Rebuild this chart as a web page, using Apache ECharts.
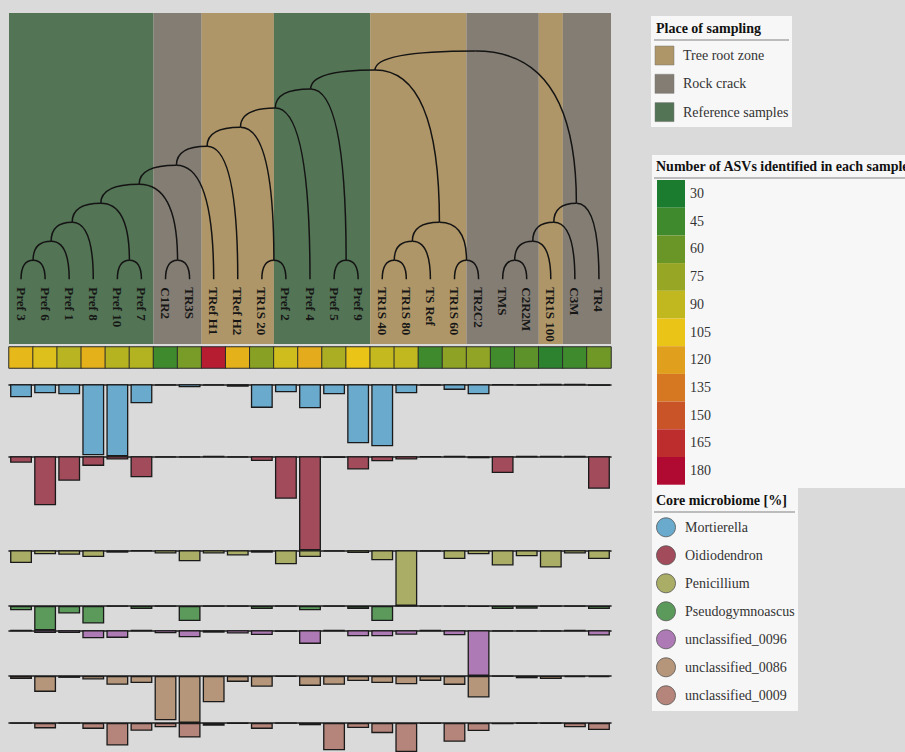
<!DOCTYPE html>
<html>
<head>
<meta charset="utf-8">
<script src="https://cdn.jsdelivr.net/npm/echarts@6/dist/echarts.min.js"></script>
<style>
  html, body { margin: 0; padding: 0; background: #dadada; }
  #chart { width: 905px; height: 752px; }
</style>
</head>
<body>
<div id="chart"></div>
<script>
// ---- data ----
const samples = ['Pref 3', 'Pref 6', 'Pref 1', 'Pref 8', 'Pref 10', 'Pref 7', 'C1R2', 'TR3S',
  'TRef H1', 'TRef H2', 'TR1S 20', 'Pref 2', 'Pref 4', 'Pref 5', 'Pref 9', 'TR1S 40', 'TR1S 80',
  'TS Ref', 'TR1S 60', 'TR2C2', 'TMS', 'C2R2M', 'TR1S 100', 'C3M', 'TR4'];

const places = ['ref', 'ref', 'ref', 'ref', 'ref', 'ref', 'rock', 'rock',
  'tree', 'tree', 'tree', 'ref', 'ref', 'ref', 'ref', 'tree', 'tree',
  'tree', 'tree', 'rock', 'rock', 'rock', 'tree', 'rock', 'rock'];

const placeKeys = ['tree', 'rock', 'ref'];
const placeLabels = ['Tree root zone', 'Rock crack', 'Reference samples'];
const placeColors = ['#af9668', '#847d73', '#537455'];

// hierarchical clustering: [left, right, height]; new nodes numbered from samples.length
const merges = [
  [0, 1, 1], [25, 2, 2], [26, 3, 3], [4, 5, 1], [27, 28, 4], [6, 7, 1], [29, 30, 5],
  [31, 8, 6], [32, 9, 7], [10, 11, 1], [33, 34, 8], [35, 12, 9], [13, 14, 1], [36, 37, 10],
  [15, 16, 1], [39, 17, 2], [18, 19, 1], [40, 41, 3], [38, 42, 11], [20, 21, 1],
  [44, 22, 2], [45, 23, 3], [46, 24, 4], [43, 47, 12]
];

const asvCounts = [110, 100, 87, 113, 86, 85, 45, 65, 172, 113, 70, 95, 115, 82, 105, 91, 90,
  45, 72, 73, 46, 55, 37, 45, 62];
const asvTicks = [30, 45, 60, 75, 90, 105, 120, 135, 150, 165, 180];
const asvColors = ['#1b7b2f', '#3f8a2c', '#6a9628', '#97a624', '#c1b820', '#ebc418',
  '#e0a01e', '#d67822', '#c95428', '#bd2d2e', '#b00a32'];

const taxa = ['Mortierella', 'Oidiodendron', 'Penicillium', 'Pseudogymnoascus',
  'unclassified_0096', 'unclassified_0086', 'unclassified_0009'];
const taxaColors = ['#6aaacd', '#a24b5b', '#a9ad65', '#5b9a5b', '#ae7ab5', '#b5967a', '#b5847a'];

// relative abundance [%] per sample
const mortierella = [6.5, 4.5, 5, 35.5, 36, 9.5, 0.5, 1.5, 0.5, 1.2, 11.8, 4, 12, 5, 29.5, 31,
  4.5, 0.6, 2.8, 5, 0.3, 0.6, 0.2, 0.2, 0.8];
const oidiodendron = [3.2, 24.5, 12.2, 4.8, 1.6, 10.5, 0.6, 0.5, 0.2, 0.5, 2.4, 21.2, 47, 0.8,
  6.6, 2.5, 1.6, 0.3, 0.2, 1, 8.4, 0.2, 0.2, 0.2, 16.2];
const penicillium = [6.4, 2, 2.2, 3.4, 1.2, 0.4, 1.6, 5.5, 1.6, 2.6, 1.2, 7, 3.4, 0.5, 1.4, 5,
  27.8, 0.5, 4.4, 2, 7.6, 3, 8.6, 1.6, 4.4];
const pseudogymnoascus = [2.2, 12.2, 3.8, 8.8, 0.3, 1.6, 0.2, 7.6, 0.2, 0.2, 1.6, 0.2, 2.2, 0.2,
  1.5, 7.6, 0, 0.2, 0.3, 0.5, 1.6, 1.4, 0.2, 0.3, 1.6];
const unclassified0096 = [0.2, 1.4, 1.4, 4, 3.8, 0.2, 1.5, 3.5, 1.2, 1.6, 2.4, 0.8, 6.8, 0.2, 3,
  3, 2.2, 0.2, 2.5, 22.8, 0.5, 0.5, 0.6, 0.2, 2.6];
const unclassified0086 = [1.5, 8, 1, 1.8, 4.4, 3.6, 22.2, 23.5, 13.2, 3, 5.4, 0.5, 5, 4.4, 2.6,
  3.6, 4.2, 2.5, 4.5, 10.8, 0.2, 1.2, 1.6, 0.6, 0.6];
const unclassified0009 = [0.2, 3.2, 0.2, 3.5, 13.2, 4.6, 2.5, 8.6, 1.6, 0.4, 3.5, 0.2, 1.4, 16,
  3, 6, 17, 0.5, 11, 4.8, 0.8, 0.4, 0.4, 2.6, 4.2];

const taxaValues = [mortierella, oidiodendron, penicillium, pseudogymnoascus,
  unclassified0096, unclassified0086, unclassified0009];

// ---- layout ----
const PLOT_LEFT = 9, PLOT_WIDTH = 602;
const TREE_TOP = 13, TREE_HEIGHT = 331, TREE_MIN = -3.4, TREE_MAX = 14;
const LABEL_H = -0.42;
const STRIP_TOP = 347, STRIP_HEIGHT = 21;
const BARS_TOP = 384.3, PX_PER_PCT = 2;
const SERIF = "'Liberation Serif', 'Times New Roman', serif";

// node coordinates of the dendrogram
const nodeX = samples.map((_, i) => i);
const nodeY = samples.map(() => 0);
merges.forEach(([a, b, h]) => {
  nodeX.push((nodeX[a] + nodeX[b]) / 2);
  nodeY.push(h);
});
const links = [];
merges.forEach(([a, b], k) => {
  const p = samples.length + k;
  links.push([nodeX[p], nodeY[p], nodeX[a], nodeY[a]]);
  links.push([nodeX[p], nodeY[p], nodeX[b], nodeY[b]]);
});

// contiguous background bands by place of sampling
const bands = [];
places.forEach((pl, i) => {
  const last = bands[bands.length - 1];
  if (last && last[2] === pl) last[1] = i;
  else bands.push([i, i, pl]);
});

const grids = [
  { left: PLOT_LEFT, width: PLOT_WIDTH, top: TREE_TOP, height: TREE_HEIGHT },
  { left: PLOT_LEFT, width: PLOT_WIDTH, top: STRIP_TOP, height: STRIP_HEIGHT }
];
const xAxes = [
  { gridIndex: 0, type: 'value', min: -0.5, max: samples.length - 0.5, show: false },
  { gridIndex: 1, type: 'category', data: samples, show: false }
];
const yAxes = [
  { gridIndex: 0, type: 'value', min: TREE_MIN, max: TREE_MAX, show: false },
  { gridIndex: 1, type: 'category', data: ['ASVs'], show: false }
];

const series = [
  {
    type: 'custom', xAxisIndex: 0, yAxisIndex: 0, z: 1, silent: true,
    data: bands.map(b => [b[0], b[1]]),
    encode: { x: [0, 1] },
    renderItem: (params, api) => {
      const band = bands[params.dataIndex];
      const p0 = api.coord([api.value(0) - 0.5, TREE_MAX]);
      const p1 = api.coord([api.value(1) + 0.5, TREE_MIN]);
      return {
        type: 'rect',
        shape: { x: p0[0], y: p0[1], width: p1[0] - p0[0], height: p1[1] - p0[1] },
        style: { fill: placeColors[placeKeys.indexOf(band[2])] }
      };
    }
  },
  {
    type: 'custom', xAxisIndex: 0, yAxisIndex: 0, z: 2, silent: true,
    data: links,
    encode: { x: [0, 2], y: [1, 3] },
    renderItem: (params, api) => {
      const p = api.coord([api.value(0), api.value(1)]);
      const c = api.coord([api.value(2), api.value(3)]);
      return {
        type: 'bezierCurve',
        shape: { x1: p[0], y1: p[1], x2: c[0], y2: c[1], cpx1: c[0], cpy1: p[1] },
        style: { stroke: '#141414', lineWidth: 1.5, fill: 'none' }
      };
    }
  },
  {
    type: 'custom', xAxisIndex: 0, yAxisIndex: 0, z: 3, silent: true,
    data: samples.map((_, i) => [i, LABEL_H]),
    encode: { x: 0, y: 1 },
    renderItem: (params, api) => {
      const p = api.coord([api.value(0), api.value(1)]);
      return {
        type: 'text', x: p[0], y: p[1], rotation: -Math.PI / 2,
        style: {
          text: samples[params.dataIndex], x: 0, y: 0, align: 'left', verticalAlign: 'middle',
          font: 'bold 13px ' + SERIF, fill: '#161616'
        }
      };
    }
  },
  {
    type: 'heatmap', xAxisIndex: 1, yAxisIndex: 1, silent: true,
    data: asvCounts.map((v, i) => [i, 0, v]),
    itemStyle: { borderColor: '#2b2b2b', borderWidth: 1 }
  }
];

let rowTop = BARS_TOP;
taxaValues.forEach((vals, r) => {
  const vmax = Math.max(...vals);
  const gi = grids.length;
  grids.push({ left: PLOT_LEFT, width: PLOT_WIDTH, top: rowTop, height: vmax * PX_PER_PCT });
  xAxes.push({
    gridIndex: gi, type: 'category', data: samples, position: 'top',
    axisLine: { show: true, onZero: false, lineStyle: { color: '#1c1c1c', width: 1.6 } },
    axisTick: { show: false }, axisLabel: { show: false }, splitLine: { show: false }
  });
  yAxes.push({ gridIndex: gi, type: 'value', inverse: true, min: 0, max: vmax, show: false });
  series.push({
    type: 'bar', name: taxa[r], xAxisIndex: gi, yAxisIndex: gi, silent: true,
    data: vals, barWidth: '91%',
    itemStyle: { color: taxaColors[r], borderColor: '#1a1a1a', borderWidth: 1.3 }
  });
  rowTop += vmax * PX_PER_PCT;
});

// ---- legend boxes ----
const graphics = [];
function panel(x, y, w, h) {
  graphics.push({ type: 'rect', shape: { x, y, width: w, height: h }, style: { fill: '#f7f7f7' }, z: 10 });
}
function title(text, x, y, x2) {
  graphics.push({ type: 'text', x, y, z: 11,
    style: { text, font: 'bold 14px ' + SERIF, fill: '#111', verticalAlign: 'middle' } });
  graphics.push({ type: 'line', z: 11, shape: { x1: x - 2, y1: y + 12, x2, y2: y + 12 },
    style: { stroke: '#a8a8a8', lineWidth: 1.5 } });
}
function itemText(text, x, y) {
  graphics.push({ type: 'text', x, y, z: 11,
    style: { text, font: '14px ' + SERIF, fill: '#333', verticalAlign: 'middle' } });
}

panel(651, 16, 141, 111);
title('Place of sampling', 656, 28, 789);
placeLabels.forEach((lab, i) => {
  graphics.push({ type: 'rect', z: 11, shape: { x: 655, y: 46 + 28.3 * i, width: 19, height: 19 },
    style: { fill: placeColors[i], stroke: '#777', lineWidth: 0.5 } });
  itemText(lab, 683, 55.5 + 28.3 * i);
});

panel(652, 155, 260, 333);
title('Number of ASVs identified in each sample', 656, 166, 905);
asvTicks.forEach((t, i) => {
  graphics.push({ type: 'rect', z: 11, shape: { x: 657, y: 180 + 27.7 * i, width: 28, height: 27.7 },
    style: { fill: asvColors[i] } });
  itemText(String(t), 690, 193.5 + 27.7 * i);
});

panel(652, 488, 146, 223);
title('Core microbiome [%]', 656, 500, 795);
taxa.forEach((t, i) => {
  graphics.push({ type: 'circle', z: 11, shape: { cx: 666, cy: 527.3 + 28 * i, r: 9.5 },
    style: { fill: taxaColors[i], stroke: '#555', lineWidth: 0.8 } });
  itemText(t, 685, 527.3 + 28 * i);
});

const chart = echarts.init(document.getElementById('chart'), null, { renderer: 'svg' });
chart.setOption({
  animation: false,
  backgroundColor: '#dadada',
  grid: grids,
  xAxis: xAxes,
  yAxis: yAxes,
  visualMap: {
    type: 'continuous', show: false, min: 30, max: 180, dimension: 2, seriesIndex: 3,
    inRange: { color: asvColors }
  },
  series: series,
  graphic: graphics
});
</script>
</body>
</html>
